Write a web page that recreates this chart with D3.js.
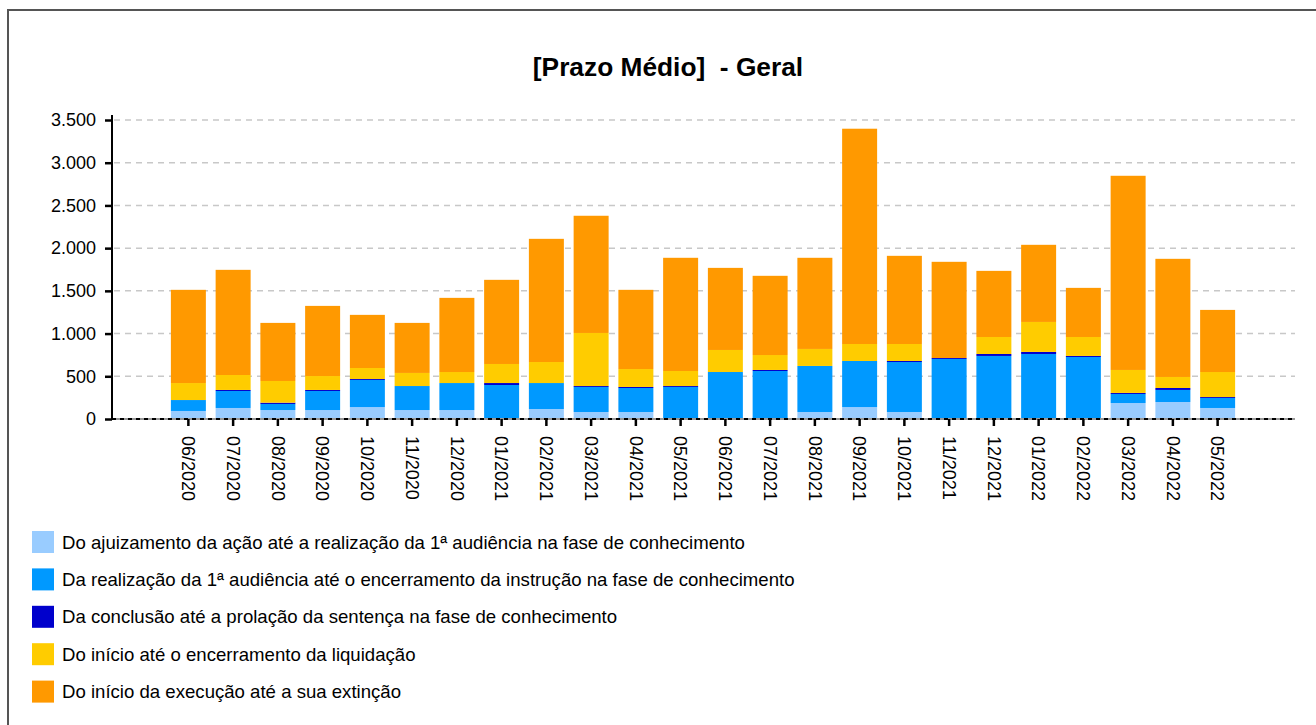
<!DOCTYPE html>
<html>
<head>
<meta charset="utf-8">
<script src="https://cdn.jsdelivr.net/npm/d3@7"></script>
<style>
  body { margin: 0; background: #fff; }
  svg { display: block; font-family: "Liberation Sans", Arial, sans-serif; }
</style>
</head>
<body>
<div id="chart-container"></div>
<script>
// ## DATA ##
const months = ["06/2020", "07/2020", "08/2020", "09/2020", "10/2020", "11/2020", "12/2020",
  "01/2021", "02/2021", "03/2021", "04/2021", "05/2021", "06/2021", "07/2021", "08/2021",
  "09/2021", "10/2021", "11/2021", "12/2021", "01/2022", "02/2022", "03/2022", "04/2022", "05/2022"];

const seriesNames = [
  "Do ajuizamento da ação até a realização da 1ª audiência na fase de conhecimento",
  "Da realização da 1ª audiência até o encerramento da instrução na fase de conhecimento",
  "Da conclusão até a prolação da sentença na fase de conhecimento",
  "Do início até o encerramento da liquidação",
  "Do início da execução até a sua extinção"
];

const ajuizamento = [94, 129, 105, 105, 140, 105, 105, 0, 117, 82, 82, 0, 0, 0, 82, 140, 82, 0, 0, 0, 0, 187, 199, 129];
const instrucao = [128, 199, 71, 223, 317, 281, 316, 398, 304, 293, 281, 375, 550, 562, 539, 539, 585, 703, 738, 761, 726, 106, 141, 117];
const sentenca = [0, 12, 15, 12, 11, 0, 0, 23, 0, 11, 12, 11, 0, 12, 0, 0, 12, 11, 23, 24, 12, 12, 23, 11];
const liquidacao = [199, 175, 254, 163, 129, 153, 129, 223, 246, 621, 210, 176, 258, 175, 199, 199, 199, 0, 199, 351, 222, 269, 129, 293];
const execucao = [1091, 1231, 680, 821, 622, 586, 868, 985, 1442, 1372, 927, 1325, 961, 927, 1067, 2520, 1032, 1126, 774, 903, 575, 2273, 1383, 727];

const yTicks = [0, 500, 1000, 1500, 2000, 2500, 3000, 3500];
const colors = ["#99ccff", "#0099ff", "#0000cc", "#ffcc00", "#ff9900"];

// build rows for the stack layout
const allSeries = [ajuizamento, instrucao, sentenca, liquidacao, execucao];
const keys = ["s0", "s1", "s2", "s3", "s4"];
const rows = months.map((m, i) => {
  const row = { month: m };
  keys.forEach((k, j) => row[k] = allSeries[j][i]);
  return row;
});

// ## CHART ##
const width = 1316;
const height = 725;
const plot = { left: 112, right: 1295, top: 115, bottom: 419 };

const svg = d3.select("#chart-container")
  .append("svg")
  .attr("width", width)
  .attr("height", height);

// outer frame
svg.append("rect")
  .attr("x", 8).attr("y", 10)
  .attr("width", 1330).attr("height", 740)
  .attr("fill", "none")
  .attr("stroke", "#555")
  .attr("stroke-width", 2);

// title
svg.append("text")
  .attr("x", 668).attr("y", 76)
  .attr("text-anchor", "middle")
  .attr("font-size", 26.3)
  .attr("font-weight", "bold")
  .style("white-space", "pre")
  .text("[Prazo Médio]  - Geral");

const x = d3.scaleBand()
  .domain(months)
  .range([166, 1240])
  .paddingInner(0.218)
  .paddingOuter(0.109);

const y = d3.scaleLinear()
  .domain([0, 3500])
  .range([plot.bottom, 120]);

const ptBR = d3.formatLocale({ decimal: ",", thousands: ".", grouping: [3], currency: ["R$", ""] });
const fmt = ptBR.format(",d");

// grid lines
svg.append("g")
  .selectAll("line")
  .data(yTicks.filter(d => d > 0))
  .join("line")
    .attr("x1", plot.left + 2).attr("x2", plot.right)
    .attr("y1", d => y(d)).attr("y2", d => y(d))
    .attr("stroke", "#c8c8c8")
    .attr("stroke-width", 1.5)
    .attr("stroke-dasharray", "6,5");

// stacked bars
const stacked = d3.stack().keys(keys)(rows);

svg.append("g")
  .selectAll("g")
  .data(stacked)
  .join("g")
    .attr("fill", (d, i) => colors[i])
  .selectAll("rect")
  .data(d => d)
  .join("rect")
    .attr("x", d => x(d.data.month))
    .attr("y", d => y(d[1]))
    .attr("width", x.bandwidth())
    .attr("height", d => y(d[0]) - y(d[1]));

// y axis
const yAxis = svg.append("g")
  .attr("transform", `translate(${plot.left},0)`)
  .call(d3.axisLeft(y).tickValues(yTicks).tickFormat(fmt).tickSize(7).tickPadding(9));
yAxis.select(".domain")
  .attr("d", `M0,${plot.top}V${plot.bottom}`)
  .attr("stroke", "#000")
  .attr("stroke-width", 2);
yAxis.selectAll(".tick line").attr("stroke", "#000").attr("stroke-width", 2.5);
yAxis.selectAll(".tick text")
  .attr("font-size", 18)
  .attr("fill", "#000")
  .attr("font-family", "'Liberation Sans', Arial, sans-serif");

// x axis baseline: grey line with black dashes on top
svg.append("line")
  .attr("x1", plot.left).attr("x2", plot.right)
  .attr("y1", plot.bottom).attr("y2", plot.bottom)
  .attr("stroke", "#999")
  .attr("stroke-width", 2);
svg.append("line")
  .attr("x1", plot.left).attr("x2", plot.right)
  .attr("y1", plot.bottom).attr("y2", plot.bottom)
  .attr("stroke", "#000")
  .attr("stroke-width", 2)
  .attr("stroke-dasharray", "4,4");

const xAxis = svg.append("g")
  .attr("transform", `translate(0,${plot.bottom})`)
  .call(d3.axisBottom(x).tickSize(7).tickSizeOuter(0));
xAxis.select(".domain").remove();
xAxis.selectAll(".tick line").attr("stroke", "#000").attr("stroke-width", 2.5);
xAxis.selectAll(".tick text")
  .attr("font-size", 18)
  .attr("fill", "#000")
  .attr("font-family", "'Liberation Sans', Arial, sans-serif")
  .attr("text-anchor", "start")
  .attr("transform", "rotate(90)")
  .attr("x", 17)
  .attr("y", 0)
  .attr("dy", "0.35em");

// legend
const legend = svg.append("g")
  .selectAll("g")
  .data(seriesNames)
  .join("g")
    .attr("transform", (d, i) => `translate(32,${531 + i * 37.4})`);

legend.append("rect")
  .attr("width", 22)
  .attr("height", 22)
  .attr("fill", (d, i) => colors[i]);

legend.append("text")
  .attr("x", 30)
  .attr("y", 11)
  .attr("dy", "0.35em")
  .attr("font-size", 18.6)
  .text(d => d);
</script>
</body>
</html>
